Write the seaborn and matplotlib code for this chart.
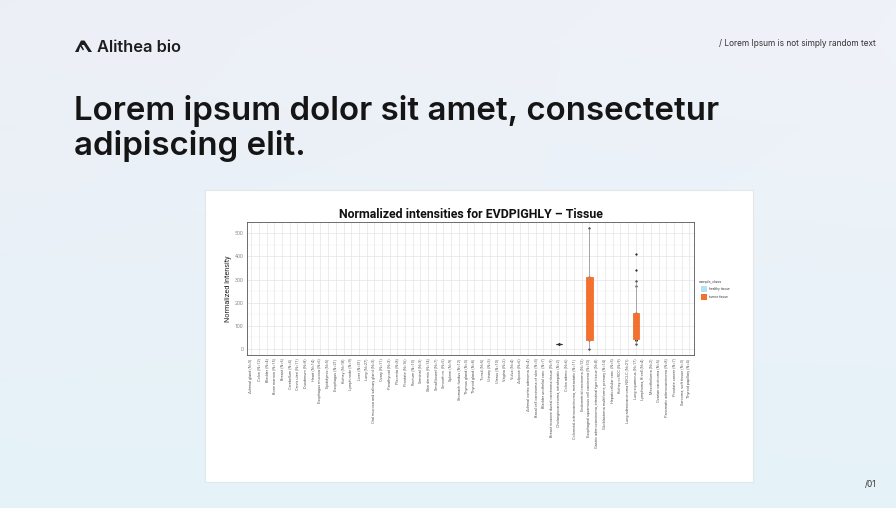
import numpy as np
import pandas as pd
import matplotlib
matplotlib.use("Agg")
import matplotlib.pyplot as plt
from matplotlib.patches import Rectangle, Polygon
import seaborn as sns

# ---------------- data ----------------
categories = [
    "Adrenal gland (N=3)", "Colon (N=12)", "Bladder (N=4)", "Bone marrow (N=15)",
    "Breast (N=6)", "Cerebellum (N=4)", "Cervix uteri (N=11)", "Duodenum (N=8)",
    "Heart (N=14)", "Esophagus mucosa (N=6)", "Epididymis (N=5)", "Esophagus (N=21)",
    "Kidney (N=18)", "Lymph node (N=9)", "Liver (N=31)", "Lung (N=27)",
    "Oral mucosa and salivary gland (N=3)", "Ovary (N=11)", "Parathyroid (N=3)",
    "Placenta (N=8)", "Prostate (N=16)", "Rectum (N=10)", "Seminal (N=3)",
    "Skin dermis (N=14)", "Small bowel (N=7)", "Smooth m. (N=5)", "Spleen (N=9)",
    "Stomach fundus (N=12)", "Thymus gland (N=3)", "Thyroid gland (N=8)",
    "Tonsil (N=5)", "Urinary (N=3)", "Uterus (N=10)", "Vagina (N=2)", "Vulva (N=4)",
    "Adipose (N=6)", "Adrenal cortex adenoma (N=4)", "Basal cell carcinoma of skin (N=3)",
    "Bladder urothelial carc. (N=7)", "Breast invasive ductal carcinoma tissue (N=9)",
    "Cholangiocarcinoma, intrahepatic (N=2)", "Colon adeno (N=6)",
    "Colorectal adenocarcinoma, metastatic (N=11)", "Endometrial carcinoma (N=12)",
    "Esophageal squamous cell carcinoma (N=10)",
    "Gastric adenocarcinoma, intestinal type tissue (N=8)",
    "Glioblastoma multiforme, primary (N=14)", "Hepatocellular carc. (N=5)",
    "Kidney ccRCC (N=9)", "Lung adenocarcinoma NSCLC (N=21)", "Lung squamous (N=17)",
    "Lymphoma, B-cell (N=4)", "Mesothelioma (N=2)", "Ovarian carcinoma (N=5)",
    "Pancreatic adenocarcinoma (N=8)", "Prostate cancer (N=7)",
    "Sarcoma, soft tissue (N=3)", "Thyroid papillary (N=4)",
]

# normalized intensities observed (tumor tissue) in the three non-empty categories
flat_category = categories[40]
flat_values = [21, 21, 21]
box_a_category = categories[44]
box_a_values = [0, 37, 150, 310, 521]
box_b_category = categories[50]
box_b_values = [23, 37, 37, 40, 43, 60, 75, 90, 100, 115, 130, 145, 154, 273, 295, 342, 410]

legend_levels = ["healthy tissue", "tumor tissue"]
y_ticks = [0, 100, 200, 300, 400, 500]

df = pd.DataFrame({
    "category": [flat_category] * len(flat_values) + [box_a_category] * len(box_a_values)
                + [box_b_category] * len(box_b_values),
    "value": flat_values + box_a_values + box_b_values,
    "sample_class": "tumor tissue",
})

# ---------------- styling ----------------
W, H = 896, 508
ORANGE = "#F4702E"
LIGHTBLUE = "#B5E2F3"

sns.set_theme(style="white")
plt.rcParams["font.family"] = ["Roboto", "DejaVu Sans"]

fig = plt.figure(figsize=(W / 100, H / 100), dpi=100)

def fx(px):
    return px / W

def fy(py):
    return 1 - py / H

# background gradient
bg = fig.add_axes([0, 0, 1, 1], zorder=-5)
top = np.array([0.929, 0.937, 0.965])
bot = np.array([0.898, 0.953, 0.973])
t = np.linspace(0, 1, 200)[:, None, None]
xs = np.linspace(0, 1, 300)[None, :, None]
grad = top * (1 - t) + bot * t
grad = grad + 0.012 * xs * (1 - t)
grad = np.clip(np.broadcast_to(grad, (200, 300, 3)), 0, 1)
bg.imshow(grad, aspect="auto", extent=[0, 1, 0, 1], origin="upper")
bg.set_axis_off()

# slide header
fig.text(fx(97), fy(52), "Alithea bio", fontsize=11.8, fontweight="semibold",
         family=["Inter", "DejaVu Sans"], color="#1d1d1f", va="baseline")
icon = Polygon([[fx(75), fy(52)], [fx(81), fy(40.5)], [fx(84.5), fy(40.5)],
                [fx(92), fy(52)], [fx(88.5), fy(52)], [fx(84), fy(45)],
                [fx(81.5), fy(45)], [fx(84), fy(49.5)], [fx(83), fy(50.5)],
                [fx(80.3), fy(46.5)], [fx(78.5), fy(52)]],
               closed=True, transform=fig.transFigure, facecolor="#1d1d1f",
               edgecolor="none")
fig.add_artist(icon)
fig.text(fx(876), fy(46), "/ Lorem Ipsum is not simply random text", fontsize=6.0,
         family=["Inter", "DejaVu Sans"], color="#333333", ha="right", va="baseline")
fig.text(fx(74), fy(120), "Lorem ipsum dolor sit amet, consectetur", fontsize=23.8,
         fontweight="semibold", family=["Inter", "DejaVu Sans"], color="#151515",
         va="baseline")
fig.text(fx(74), fy(155), "adipiscing elit.", fontsize=23.8, fontweight="semibold",
         family=["Inter", "DejaVu Sans"], color="#151515", va="baseline")
fig.text(fx(876), fy(487), "/01", fontsize=6, family=["Inter", "DejaVu Sans"],
         color="#333333", ha="right", va="baseline")

# white card
card = fig.add_axes([fx(205), fy(482), fx(753) - fx(205), fy(190) - fy(482)], zorder=-1)
card.set_facecolor("white")
card.set_xticks([])
card.set_yticks([])
for s in card.spines.values():
    s.set_color("#e3e6ea")
    s.set_linewidth(0.8)

# plot panel
ax = fig.add_axes([fx(246.7), fy(355), fx(694) - fx(246.7), fy(222.3) - fy(355)], zorder=2)
ax.set_facecolor("white")

sns.stripplot(data=df, x="category", y="value", order=categories, jitter=False,
              color="#222222", size=1.6, linewidth=0, zorder=1.5, ax=ax)

main_df = df[df["category"] != flat_category]
sns.boxplot(data=main_df, x="category", y="value", order=categories, color=ORANGE,
            linecolor=ORANGE, width=0.8, linewidth=0.6, showfliers=False,
            showcaps=False, saturation=1,
            whiskerprops={"color": "#9a9a9a", "linewidth": 0.6},
            medianprops={"color": ORANGE}, ax=ax)
flat_df = df[df["category"] == flat_category]
sns.boxplot(data=flat_df, x="category", y="value", order=categories, color="#333333",
            linecolor="#333333", width=0.8, linewidth=0.8, showfliers=False,
            showcaps=False, ax=ax)

n = len(categories)
ax.set_xlim(-0.6, n - 1 + 0.6)
ax.set_ylim(-26, 547)
ax.set_yticks(y_ticks)
ax.set_yticks([50, 150, 250, 350, 450], minor=True)
ax.set_xticks(range(n))
ax.set_xticklabels(categories, rotation=90, fontsize=2.8, color="#555555",
                   va="top", ha="center")
ax.set_yticklabels([str(v) for v in y_ticks], fontsize=3.8, color="#888888")
ax.grid(True, which="major", color="#e4e4e4", linewidth=0.5)
ax.grid(True, which="minor", axis="y", color="#f0f0f0", linewidth=0.35)
ax.set_axisbelow(True)
ax.tick_params(axis="both", which="major", length=1.5, width=0.4, color="#777777", pad=1)
ax.tick_params(axis="y", which="minor", length=0)
ax.set_xlabel("")
ax.set_ylabel("Normalized Intensity", fontsize=5.2, color="#222222", labelpad=2)
for s in ax.spines.values():
    s.set_color("#555555")
    s.set_linewidth(0.6)

fig.text(fx(470.5), fy(217.5), "Normalized intensities for EVDPIGHLY \u2013 Tissue",
         fontsize=8.9, fontweight="bold", color="#111111", ha="center", va="baseline")

# legend (sample_class)
fig.text(fx(699), fy(282.5), "sample_class", fontsize=2.8, color="#444444", va="baseline")
fig.add_artist(Rectangle((fx(700.5), fy(292)), fx(6.5), 6.5 / H, transform=fig.transFigure,
                         facecolor=LIGHTBLUE, edgecolor="none"))
fig.add_artist(Rectangle((fx(700.5), fy(300)), fx(6.5), 6.5 / H, transform=fig.transFigure,
                         facecolor=ORANGE, edgecolor="none"))
fig.text(fx(709), fy(288.7), legend_levels[0], fontsize=2.4, color="#444444", va="center")
fig.text(fx(709), fy(296.7), legend_levels[1], fontsize=2.4, color="#444444", va="center")

fig.savefig("out.png", dpi=100)
